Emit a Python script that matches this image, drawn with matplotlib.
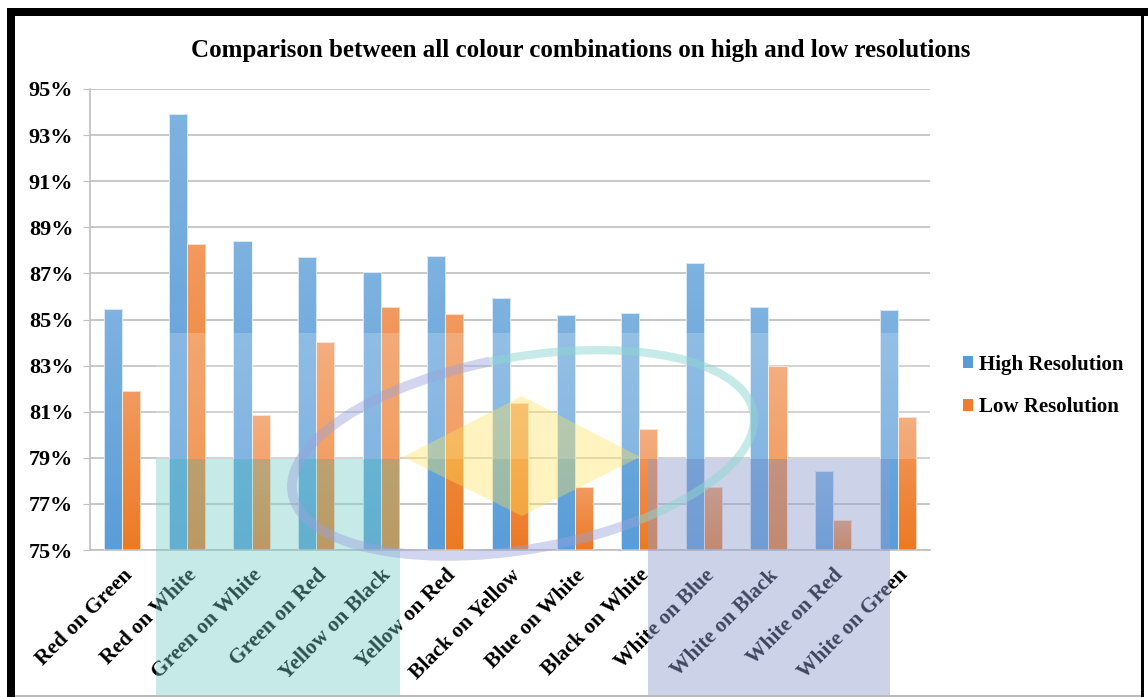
import matplotlib
matplotlib.use("Agg")
import matplotlib.pyplot as plt
import numpy as np
from matplotlib.colors import LinearSegmentedColormap
from matplotlib.patches import Arc, Patch, Polygon, Rectangle

# ── data ────────────────────────────────────────────────────────────────
combinations = [
    "Red on Green", "Red on White", "Green on White", "Green on Red",
    "Yellow on Black", "Yellow on Red", "Black on Yellow", "Blue on White",
    "Black on White", "White on Blue", "White on Black", "White on Red",
    "White on Green",
]
high_res = [85.46, 93.92, 88.41, 87.71, 87.06, 87.75, 85.93, 85.20,
            85.28, 87.45, 85.54, 78.43, 85.41]
low_res = [81.90, 88.28, 80.86, 84.02, 85.54, 85.24, 81.38, 77.73,
           80.25, 77.73, 82.98, 76.30, 80.77]
y_ticks = [75, 77, 79, 81, 83, 85, 87, 89, 91, 93, 95]

title = "Comparison between all colour combinations on high and low resolutions"
series_names = ["High Resolution", "Low Resolution"]

# ── style ───────────────────────────────────────────────────────────────
SERIF = "Liberation Serif"
W, H = 1148, 697
blue_map = LinearSegmentedColormap.from_list("blue", ["#5A9DD8", "#7EB2E0"])
orange_map = LinearSegmentedColormap.from_list("orange", ["#EC7A24", "#F29A60"])

fig = plt.figure(figsize=(W / 100, H / 100), dpi=100)
ax = fig.add_axes([90 / W, 1 - 550 / H, 840 / W, 461 / H])

x = np.arange(len(combinations))
bw = 0.28


def gradient_bars(bars, cmap):
    """Fill each bar with a vertical gradient clipped to its outline."""
    grad = np.linspace(0, 1, 64).reshape(-1, 1)
    for b in bars:
        x0, y0 = b.get_x(), b.get_y()
        w, h = b.get_width(), b.get_height()
        b.set_facecolor("none")
        im = ax.imshow(grad, cmap=cmap, origin="lower", aspect="auto",
                       extent=(x0, x0 + w, y0, y0 + h), zorder=2)
        im.set_clip_path(b)


ax.set_ylim(75, 95)
hb = ax.bar(x - bw / 2, [v - 75 for v in high_res], bw, bottom=75,
            edgecolor="#EAF2FA", linewidth=0.6, zorder=3)
lb = ax.bar(x + bw / 2, [v - 75 for v in low_res], bw, bottom=75,
            edgecolor="#FBE9DC", linewidth=0.6, zorder=3)
gradient_bars(hb, blue_map)
gradient_bars(lb, orange_map)

ax.set_xlim(-0.5, len(combinations) - 0.5)
ax.set_ylim(75, 95)
ax.set_yticks(y_ticks)
ax.set_yticklabels([f"{t}%" for t in y_ticks], fontfamily=SERIF,
                   fontweight="bold", fontsize=16)
ax.set_xticks(x)
ax.set_xticklabels(combinations, rotation=45, ha="right", va="top",
                   rotation_mode="anchor", fontfamily=SERIF,
                   fontweight="bold", fontsize=15.5)
ax.tick_params(axis="x", length=0, pad=11)
ax.tick_params(axis="y", length=5, color="#BFBFBF", pad=7)
ax.grid(axis="y", color="#BFBFBF", linewidth=1.2, zorder=0)
ax.set_axisbelow(True)
for side in ("top", "right"):
    ax.spines[side].set_visible(False)
for side in ("left", "bottom"):
    ax.spines[side].set_color("#BFBFBF")
    ax.spines[side].set_linewidth(1.2)

fig.text(581 / W, 1 - 50 / H, title, ha="center", va="center",
         fontfamily=SERIF, fontweight="bold", fontsize=18)

handles = [Patch(facecolor="#5B9BD5"), Patch(facecolor="#ED7D31")]
ax.legend(handles, series_names, loc="center left",
          bbox_to_anchor=(944 / W, 1 - 386 / H), bbox_transform=fig.transFigure,
          frameon=False, handlelength=0.5, handleheight=0.5,
          handletextpad=0.3, labelspacing=1.1,
          prop={"family": SERIF, "weight": "bold", "size": 15})

# ── decorative overlay, in pixel coordinates ────────────────────────────
ov = fig.add_axes([0, 0, 1, 1], zorder=5)
ov.set_xlim(0, W)
ov.set_ylim(H, 0)
ov.axis("off")
ov.patch.set_alpha(0)

ov.add_patch(Rectangle((156, 333), 774, 126, facecolor="white",
                       alpha=0.2, linewidth=0))
ov.add_patch(Rectangle((156, 459), 244, 240, facecolor="#6FCCC6",
                       alpha=0.4, linewidth=0))
ov.add_patch(Rectangle((648, 459), 242, 240, facecolor="#8F9ED0",
                       alpha=0.45, linewidth=0))
ov.add_patch(Polygon([(403, 457), (522, 396), (640, 457), (522, 516)],
                     closed=True, facecolor="#FFE45A", alpha=0.38,
                     linewidth=0))
ov.add_patch(Arc((523, 453), 468, 192, angle=-10, theta1=-100, theta2=40,
                 color="#8FD6D2", linewidth=6, alpha=0.5))
ov.add_patch(Arc((523, 453), 468, 192, angle=-10, theta1=40, theta2=260,
                 color="#9AA2DC", linewidth=7, alpha=0.45))

# page border
ov.add_patch(Rectangle((7, 8), W - 7, 8, facecolor="black", linewidth=0))
ov.add_patch(Rectangle((7, 8), 8, H - 8, facecolor="black", linewidth=0))
ov.add_patch(Rectangle((1141, 8), 3, H - 8, facecolor="black", linewidth=0))
ov.add_patch(Rectangle((15, 695), 1126, 2, facecolor="#BBBBBB", linewidth=0))

fig.savefig("out.png", dpi=100)
